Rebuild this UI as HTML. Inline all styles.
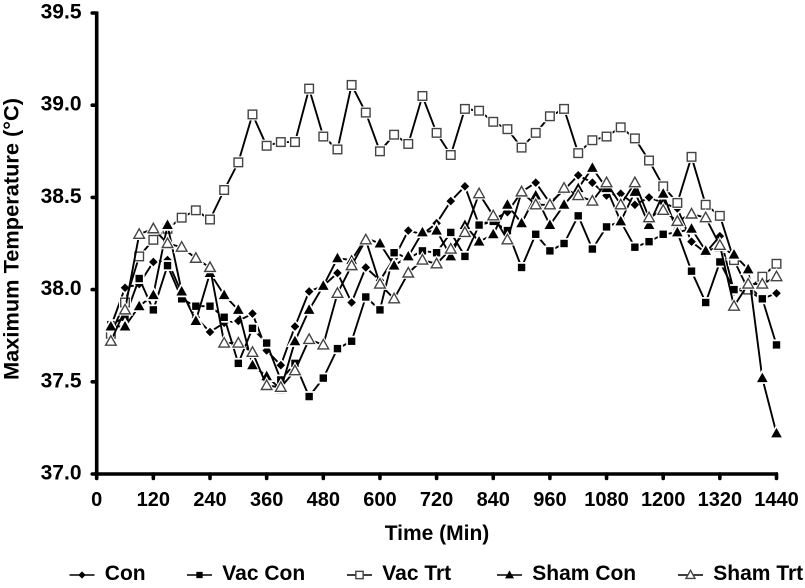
<!DOCTYPE html>
<html>
<head>
<meta charset="utf-8">
<title>Maximum Temperature</title>
<style>
html,body{margin:0;padding:0;background:#fff;width:805px;height:588px;overflow:hidden}
svg{display:block}
text{font-family:"Liberation Sans",sans-serif;font-weight:bold;fill:#000}
</style>
</head>
<body>
<svg id="chart" width="805" height="588" viewBox="0 0 805 588" xmlns="http://www.w3.org/2000/svg"></svg>
<script>
const times = [30,60,90,120,150,180,210,240,270,300,330,360,390,420,450,480,510,540,570,600,630,660,690,720,750,780,810,840,870,900,930,960,990,1020,1050,1080,1110,1140,1170,1200,1230,1260,1290,1320,1350,1380,1410,1440];
const con = [37.80,38.01,38.03,38.15,38.16,37.98,37.85,37.77,37.82,37.83,37.87,37.67,37.59,37.80,37.99,38.02,38.09,37.93,38.12,38.05,38.17,38.32,38.30,38.36,38.48,38.56,38.35,38.38,38.42,38.53,38.58,38.47,38.54,38.62,38.58,38.51,38.52,38.46,38.50,38.47,38.44,38.26,38.20,38.29,37.99,38.02,37.95,37.98];
const vacCon = [37.81,37.85,38.06,37.89,38.13,37.95,37.91,37.91,37.85,37.60,37.79,37.71,37.51,37.60,37.42,37.52,37.68,37.72,37.96,37.89,38.20,38.17,38.21,38.20,38.31,38.18,38.35,38.37,38.32,38.12,38.30,38.21,38.25,38.40,38.22,38.34,38.37,38.23,38.26,38.30,38.31,38.10,37.93,38.15,38.00,37.99,37.95,37.70];
const vacTrt = [37.76,37.93,38.18,38.27,38.33,38.39,38.43,38.38,38.54,38.69,38.95,38.78,38.80,38.80,39.09,38.83,38.76,39.11,38.96,38.75,38.84,38.79,39.05,38.85,38.73,38.98,38.97,38.91,38.87,38.77,38.85,38.94,38.98,38.74,38.81,38.83,38.88,38.82,38.70,38.56,38.47,38.72,38.46,38.40,38.16,38.00,38.07,38.14];
const shamCon = [37.80,37.80,37.91,37.97,38.35,37.99,37.83,38.09,37.97,37.89,37.59,37.53,37.46,37.72,37.89,38.02,38.17,38.16,38.28,38.25,38.13,38.18,38.31,38.32,38.18,38.35,38.26,38.30,38.46,38.36,38.51,38.35,38.46,38.55,38.66,38.55,38.37,38.53,38.35,38.52,38.31,38.33,38.21,38.23,38.19,38.11,37.52,37.22];
const shamTrt = [37.72,37.89,38.30,38.33,38.25,38.23,38.17,38.12,37.71,37.71,37.66,37.48,37.47,37.56,37.73,37.70,37.98,38.13,38.27,38.03,37.95,38.09,38.16,38.14,38.22,38.31,38.52,38.40,38.27,38.53,38.46,38.46,38.55,38.51,38.48,38.58,38.46,38.58,38.39,38.43,38.37,38.41,38.39,38.24,37.91,38.03,38.03,38.07];
const xTickLabels = ["0","120","240","360","480","600","720","840","960","1080","1200","1320","1440"];
const yTickLabels = ["37.0","37.5","38.0","38.5","39.0","39.5"];
const seriesNames = ["Con","Vac Con","Vac Trt","Sham Con","Sham Trt"];

const NS = "http://www.w3.org/2000/svg";
const svg = document.getElementById("chart");
const PLOT = {left:96.7, right:776.5, top:13, bottom:474, xMax:1440, yMin:37, yMax:39.5};
function xScale(t){ return PLOT.left + (t / PLOT.xMax) * (PLOT.right - PLOT.left); }
function yScale(v){ return PLOT.bottom - ((v - PLOT.yMin) / (PLOT.yMax - PLOT.yMin)) * (PLOT.bottom - PLOT.top); }
function make(tag, attrs, parent){
  const e = document.createElementNS(NS, tag);
  for (const k in attrs) e.setAttribute(k, attrs[k]);
  (parent || svg).appendChild(e);
  return e;
}
function markerShape(kind, x, y, s, extra, parent){
  let m;
  if (kind === "diamond"){
    m = make("polygon", Object.assign({points:`${x},${y-4.3*s} ${x+4.3*s},${y} ${x},${y+4.3*s} ${x-4.3*s},${y}`}, extra), parent);
  } else if (kind === "square"){
    m = make("rect", Object.assign({x:x-3.7*s, y:y-3.7*s, width:7.4*s, height:7.4*s}, extra), parent);
  } else if (kind === "open-square"){
    m = make("rect", Object.assign({x:x-4.3*s, y:y-4.3*s, width:8.6*s, height:8.6*s}, extra), parent);
  } else {
    m = make("polygon", Object.assign({points:`${x},${y-5.5*s} ${x+5.3*s},${y+4*s} ${x-5.3*s},${y+4*s}`}, extra), parent);
  }
  return m;
}
function drawMarker(kind, x, y, parent, s, haloWidth){
  const open = kind.indexOf("open") === 0;
  if (haloWidth > 0) {
    const halo = markerShape(kind, x, y, s, {fill:"#fff", stroke:"#fff", "stroke-width":haloWidth}, parent);
    
    
  }
  return markerShape(kind, x, y, s, open ? {fill:"#fff", stroke:"#444", "stroke-width":1.4} : {fill:"#000"}, parent);
}

// axes
const yAxis = make("line", {x1:PLOT.left, x2:PLOT.left, y1:PLOT.top-1.5, y2:PLOT.bottom+2, stroke:"#000", "stroke-width":3.6});


const xAxis = make("line", {x1:PLOT.left-2, x2:PLOT.right+1.5, y1:PLOT.bottom, y2:PLOT.bottom, stroke:"#000", "stroke-width":3.6});



yTickLabels.forEach(function(lab){
  const y = yScale(parseFloat(lab));
  const tick = make("line", {x1:PLOT.left-4.5, x2:PLOT.left, y1:y, y2:y, stroke:"#000", "stroke-width":3.6, "stroke-linecap":"round"});
  
  
  const t = make("text", {x:81.5, y:y+5.5, "text-anchor":"end", "font-size":"21"});
  t.textContent = lab;
  
  
});
xTickLabels.forEach(function(lab){
  const x = xScale(parseFloat(lab));
  const tick = make("line", {x1:x, x2:x, y1:PLOT.bottom, y2:PLOT.bottom+4.5, stroke:"#000", "stroke-width":3.6, "stroke-linecap":"round"});
  
  
  const t = make("text", {x:x, y:506, "text-anchor":"middle", "font-size":"20"});
  t.textContent = lab;
  
  
});

const xTitle = make("text", {x:437, y:540, "text-anchor":"middle", "font-size":"21"});
xTitle.textContent = "Time (Min)";


const yTitle = make("text", {x:0, y:0, "text-anchor":"middle", "font-size":"21.5", transform:"translate(18.5,239) rotate(-90)", textLength:"282", lengthAdjust:"spacingAndGlyphs"});
yTitle.textContent = "Maximum Temperature (°C)";



// series
const seriesDefs = [
  {values:con, kind:"diamond"},
  {values:vacCon, kind:"square"},
  {values:vacTrt, kind:"open-square"},
  {values:shamCon, kind:"triangle"},
  {values:shamTrt, kind:"open-triangle"}
];
seriesDefs.forEach(function(def, idx){
  const g = make("g", {});
  
  
  const pts = def.values.map(function(v, i){ return xScale(times[i]).toFixed(1) + "," + yScale(v).toFixed(1); }).join(" ");
  const line = make("polyline", {points:pts, fill:"none", stroke:"#000", "stroke-width":1.9, "stroke-linejoin":"round"}, g);
  
  
  def.values.forEach(function(v, i){
    const mark = drawMarker(def.kind, xScale(times[i]), yScale(v), g, 1, 3.5);
    
    
  });
});

// legend
const legendKeyX = [69.5,187,347,497,678];
seriesDefs.forEach(function(def, idx){
  const g = make("g", {});
  
  
  const x = legendKeyX[idx];
  make("line", {x1:x, x2:x+25, y1:575, y2:575, stroke:"#000", "stroke-width":1.5}, g);
  drawMarker(def.kind, x+12.5, 575, g, 0.85, 0);
  const t = make("text", {x:x+35.3, y:580, "font-size":"21"}, g);
  t.textContent = seriesNames[idx];
});
</script>
</body>
</html>
